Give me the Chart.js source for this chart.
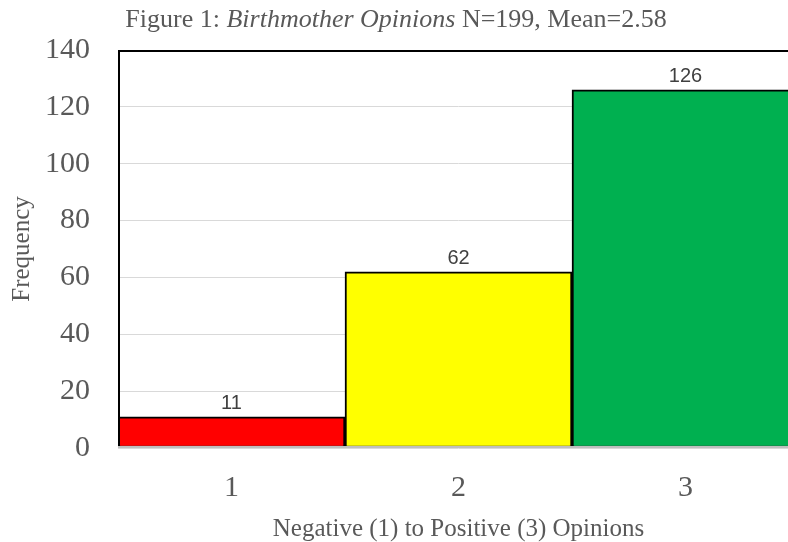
<!DOCTYPE html>
<html>
<head>
<meta charset="utf-8">
<script src="https://cdn.jsdelivr.net/npm/chart.js@4"></script>
<style>
  html, body { margin: 0; padding: 0; background: #fff; }
  body { width: 788px; height: 542px; overflow: hidden; }
  canvas { display: block; }
</style>
</head>
<body>
<canvas id="histChart" width="800" height="542"></canvas>
<script>
// data
const categories = ["1", "2", "3"];
const frequencies = [11, 62, 126];
const barColors = ["#FF0000", "#FFFF00", "#00B050"];
const yTicks = [0, 20, 40, 60, 80, 100, 120, 140];

const SERIF = "'Liberation Serif', 'Times New Roman', serif";
const SANS = "'Liberation Sans', Arial, sans-serif";
const GREY = "#595959";

// title with an italic middle part
const titlePlugin = {
  id: "mixedTitle",
  afterDraw(chart) {
    const ctx = chart.ctx;
    const parts = [
      { text: "Figure 1: ", font: "26px " + SERIF },
      { text: "Birthmother Opinions", font: "italic 26px " + SERIF },
      { text: " N=199, Mean=2.58", font: "26px " + SERIF }
    ];
    ctx.save();
    let total = 0;
    parts.forEach(p => { ctx.font = p.font; p.w = ctx.measureText(p.text).width; total += p.w; });
    let x = 396 - total / 2;
    ctx.fillStyle = GREY;
    ctx.textBaseline = "alphabetic";
    ctx.textAlign = "left";
    parts.forEach(p => { ctx.font = p.font; ctx.fillText(p.text, x, 27); x += p.w; });
    ctx.restore();
  }
};

// plot frame, axis line and value labels
const framePlugin = {
  id: "frameAndLabels",
  afterDatasetsDraw(chart) {
    const ctx = chart.ctx;
    const a = chart.chartArea;
    ctx.save();
    ctx.strokeStyle = "#000";
    ctx.lineWidth = 2;
    ctx.strokeRect(a.left + 1, a.top + 1, a.right - a.left - 2, a.bottom - a.top - 2);
    ctx.strokeStyle = "#BFBFBF";
    ctx.lineWidth = 2;
    ctx.beginPath();
    ctx.moveTo(a.left, a.bottom - 1);
    ctx.lineTo(a.right, a.bottom - 1);
    ctx.stroke();

    ctx.fillStyle = "#404040";
    ctx.font = "20px " + SANS;
    ctx.textAlign = "center";
    ctx.textBaseline = "alphabetic";
    chart.getDatasetMeta(0).data.forEach((bar, i) => {
      ctx.fillText(String(frequencies[i]), bar.x, bar.y - 8);
    });
    ctx.restore();
  }
};

new Chart(document.getElementById("histChart"), {
  type: "bar",
  data: {
    labels: categories,
    datasets: [{
      data: frequencies,
      backgroundColor: barColors,
      borderColor: "#000",
      borderWidth: 2,
      borderSkipped: false,
      barPercentage: 1,
      categoryPercentage: 1
    }]
  },
  options: {
    responsive: false,
    animation: false,
    layout: { padding: { top: 50, right: 1, left: 0, bottom: 0 } },
    plugins: {
      legend: { display: false },
      tooltip: { enabled: false },
      title: { display: false }
    },
    scales: {
      x: {
        grid: { display: false, drawTicks: false },
        border: { display: false },
        ticks: { color: GREY, font: { family: SERIF, size: 30 }, padding: 22 },
        title: {
          display: true,
          text: "Negative (1) to Positive (3) Opinions",
          color: GREY,
          font: { family: SERIF, size: 25 },
          padding: { top: 0, bottom: -2 }
        },
        afterFit(scale) { scale.height = 94; }
      },
      y: {
        min: 0,
        max: 140,
        afterBuildTicks(scale) { scale.ticks = yTicks.map(v => ({ value: v })); },
        grid: { color: "#D9D9D9", lineWidth: 1, drawTicks: false },
        border: { display: false },
        ticks: { color: GREY, font: { family: SERIF, size: 30 }, padding: 28 },
        title: {
          display: true,
          text: "Frequency",
          color: GREY,
          font: { family: SERIF, size: 25 },
          padding: { top: 7, bottom: 0 }
        },
        afterFit(scale) { scale.width = 118; }
      }
    }
  },
  plugins: [titlePlugin, framePlugin]
});
</script>
</body>
</html>
